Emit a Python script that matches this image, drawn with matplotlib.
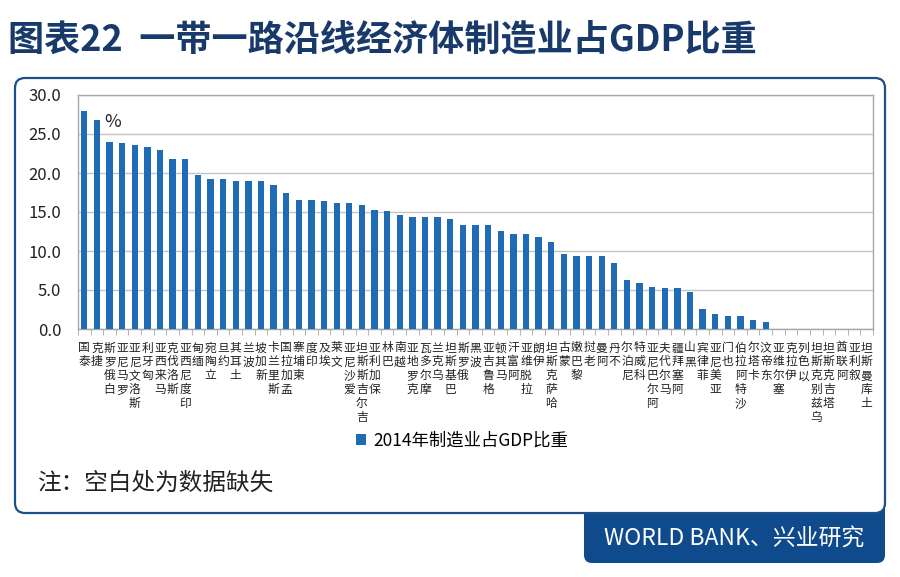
import matplotlib.pyplot as plt
from matplotlib.patches import FancyBboxPatch
from matplotlib.ticker import FixedLocator

plt.rcParams['font.family'] = ['Noto Sans CJK SC', 'DejaVu Sans']

# 63 economies, only the first 55 have a 2014 value
countries = ['泰国', '捷克', '白俄罗斯', '罗马尼亚', '斯洛文尼亚', '匈牙利', '马来西亚',
             '斯洛伐克', '印度尼西亚', '缅甸', '立陶宛', '约旦', '土耳其', '波兰', '新加坡',
             '斯里兰卡', '孟加拉国', '柬埔寨', '印度', '埃及', '文莱', '爱沙尼亚',
             '吉尔吉斯斯坦', '保加利亚', '巴林', '越南', '克罗地亚', '摩尔多瓦', '乌克兰',
             '巴基斯坦', '俄罗斯', '波黑', '格鲁吉亚', '马其顿', '阿富汗', '拉脱维亚', '伊朗',
             '哈萨克斯坦', '蒙古', '黎巴嫩', '老挝', '阿曼', '不丹', '尼泊尔', '科威特',
             '阿尔巴尼亚', '马尔代夫', '阿塞拜疆', '黑山', '菲律宾', '亚美尼亚', '也门',
             '沙特阿拉伯', '卡塔尔', '东帝汶', '塞尔维亚', '伊拉克', '以色列',
             '乌兹别克斯坦', '塔吉克斯坦', '阿联酋', '叙利亚', '土库曼斯坦']
values = [27.9, 26.8, 24.0, 23.8, 23.6, 23.3, 22.9, 21.8, 21.8, 19.8,
          19.2, 19.2, 19.0, 19.0, 19.0, 18.4, 17.5, 16.6, 16.6, 16.4,
          16.1, 16.1, 15.9, 15.3, 15.1, 14.6, 14.4, 14.4, 14.4, 14.1,
          13.3, 13.3, 13.3, 12.6, 12.2, 12.2, 11.8, 11.1, 9.6, 9.4,
          9.4, 9.4, 8.5, 6.3, 5.9, 5.4, 5.2, 5.2, 4.8, 2.6,
          1.9, 1.7, 1.7, 1.1, 0.85]
yticks = [0, 5, 10, 15, 20, 25, 30]

title = '图表22  一带一路沿线经济体制造业占GDP比重'
series_name = '2014年制造业占GDP比重'
note = '注：空白处为数据缺失'
source = 'WORLD BANK、兴业研究'

navy = '#173a6b'
bar_blue = '#1f6cb4'

fig = plt.figure(figsize=(9, 5.77), dpi=100)

# background layer in pixel coords: title, frame, source tab
bg = fig.add_axes([0, 0, 1, 1])
bg.set_xlim(0, 900)
bg.set_ylim(577, 0)
bg.axis('off')
bg.add_patch(FancyBboxPatch((584, 500), 301, 63, boxstyle='round,pad=0,rounding_size=8',
                            fc='#0f4a8c', ec='none'))
bg.add_patch(FancyBboxPatch((15, 78), 870, 435, boxstyle='round,pad=0,rounding_size=10',
                            fc='white', ec='#1d4f8a', lw=1.6))
bg.text(8, 40, title, fontsize=26, color=navy, va='center', fontweight='bold')
bg.text(734, 539, source, fontsize=16.5, color='white', ha='center', va='center',
        fontweight='medium')
bg.text(37, 483, note, fontsize=17, color='#222222', va='center')
bg.text(113, 122, '%', fontsize=13, color='#222222', ha='center', va='center')

ax = fig.add_axes([78 / 900, 1 - 329 / 577, 795 / 900, 234 / 577])
ax.set_facecolor('none')
ax.bar(range(len(values)), values, width=0.5, color=bar_blue, zorder=3, label=series_name)
ax.set_xlim(-0.5, len(countries) - 0.5)
ax.set_ylim(0, 30)
ax.set_yticks(yticks, labels=['%.1f' % v for v in yticks])
ax.grid(axis='y', color='#c4c4c4', lw=1, zorder=0)
for s in ax.spines.values():
    s.set_color('#a6a6a6')
    s.set_linewidth(1)
ax.tick_params(axis='y', length=0, pad=12, labelsize=12, labelcolor='#222222')

# vertical stacked labels, read bottom to top
stacked = ['\n'.join(reversed(c)) for c in countries]
ax.set_xticks(range(len(countries)), labels=stacked)
ax.tick_params(axis='x', length=0, pad=9, labelsize=8.5, labelcolor='#222222')
for t in ax.get_xticklabels():
    t.set_linespacing(1.08)
ax.xaxis.set_minor_locator(FixedLocator([i - 0.5 for i in range(len(countries) + 1)]))
ax.tick_params(axis='x', which='minor', length=4, color='#a6a6a6', direction='out')

ax.legend(loc='center', bbox_to_anchor=(462 / 900, 1 - 441 / 577),
          bbox_transform=fig.transFigure, frameon=False, fontsize=12.5,
          handlelength=0.6, handleheight=0.6, handletextpad=0.4)

fig.savefig('out.png', dpi=100)
